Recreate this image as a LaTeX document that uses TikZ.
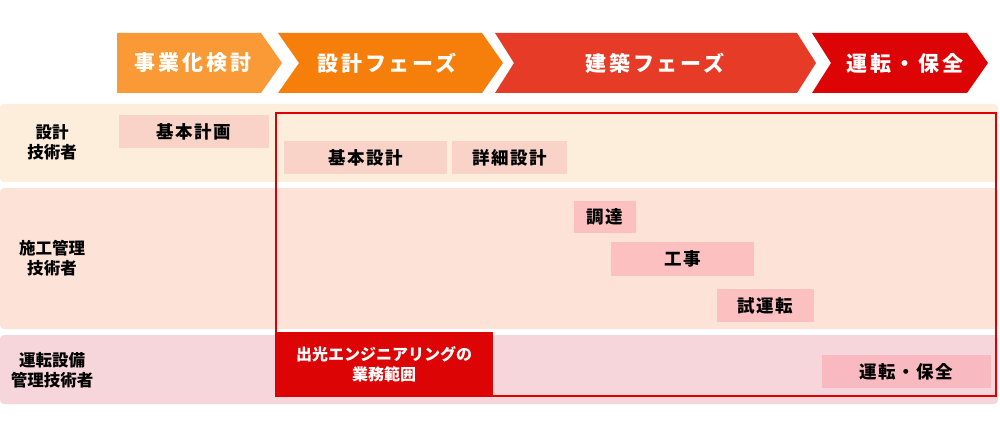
\documentclass[tikz,border=0pt]{standalone}
\usepackage{fontspec}
\newfontfamily\jp{Noto Sans CJK JP}
\newfontfamily\jphead[LetterSpace=14]{Noto Sans CJK JP}
\newfontfamily\jpbox[LetterSpace=8]{Noto Sans CJK JP}
\definecolor{cA}{HTML}{F99A36}
\definecolor{cB}{HTML}{F57F0A}
\definecolor{cC}{HTML}{E63B26}
\definecolor{cD}{HTML}{DC0404}
\definecolor{rowA}{HTML}{FDEEDC}
\definecolor{rowB}{HTML}{FDE3D7}
\definecolor{rowC}{HTML}{F7D6DB}
\definecolor{boxA}{HTML}{FAD3C8}
\definecolor{boxB}{HTML}{FDC0C0}
\definecolor{boxC}{HTML}{F9B9C0}
\definecolor{frame}{HTML}{DD0000}
\tikzset{
  headtext/.style={text=white,font=\jphead\bfseries\fontsize{21}{24}\selectfont},
  rowlabel/.style={text=black,align=center,font=\jp\bfseries\fontsize{16.5}{20}\selectfont},
  taskbox/.style={rectangle,inner sep=0pt,text=black,font=\jpbox\bfseries\fontsize{17.5}{20}\selectfont},
  rowband/.style={rounded corners=4pt,draw=none},
}
\begin{document}
\begin{tikzpicture}[x=1pt,y=-1pt]
\useasboundingbox[fill=white] (0,0) rectangle (1000,438);
% phase chevrons
\fill[cA] (117,33) -- (261,33) -- (282,63) -- (261,93) -- (117,93) -- cycle;
\fill[cB] (278,33) -- (482,33) -- (503,63) -- (482,93) -- (278,93) -- (299,63) -- cycle;
\fill[cC] (495,33) -- (797,33) -- (816,63) -- (797,93) -- (495,93) -- (514,63) -- cycle;
\fill[cD] (812,33) -- (967,33) -- (988,63) -- (967,93) -- (812,93) -- (831,63) -- cycle;
\node[headtext] (p1) at (193,63) {事業化検討};
\node[headtext] (p2) at (387,63) {設計フェーズ};
\node[headtext] (p3) at (655,63) {建築フェーズ};
\node[headtext] (p4) at (905,63) {運転・保全};
% row bands
\fill[rowband,rowA] (0,104) rectangle (998,182);
\fill[rowband,rowB] (0,188) rectangle (998,329);
\fill[rowband,rowC] (0,335) rectangle (998,404);
\node[rowlabel] (r1) at (52,142) {設計\\技術者};
\node[rowlabel] (r2) at (52,258) {施工管理\\技術者};
\node[rowlabel] (r3) at (52,370) {運転設備\\管理技術者};
% tasks
\node[taskbox,fill=boxA,minimum width=150pt,minimum height=33pt] (t1) at (194,131.5) {基本計画};
\node[taskbox,fill=boxA,minimum width=163pt,minimum height=33pt] (t2) at (365.5,157.5) {基本設計};
\node[taskbox,fill=boxA,minimum width=115pt,minimum height=33pt] (t3) at (509.5,157.5) {詳細設計};
\node[taskbox,fill=boxB,minimum width=62pt,minimum height=32pt] (t4) at (605,217) {調達};
\node[taskbox,fill=boxB,minimum width=143pt,minimum height=34pt] (t5) at (682.5,259) {工事};
\node[taskbox,fill=boxB,minimum width=97pt,minimum height=33pt] (t6) at (765.5,305.5) {試運転};
\node[taskbox,fill=boxC,minimum width=169pt,minimum height=33pt] (t7) at (906.5,371.5) {運転・保全};
% scope box
\node[rectangle,inner sep=0pt,fill=cD,minimum width=218pt,minimum height=64pt,text=white,align=center,
  font=\jp\bfseries\fontsize{16}{20}\selectfont] (scope) at (384,364) {出光エンジニアリングの\\業務範囲};
\draw[frame,line width=2pt] (276,113) rectangle (996,396);
\end{tikzpicture}
\end{document}
